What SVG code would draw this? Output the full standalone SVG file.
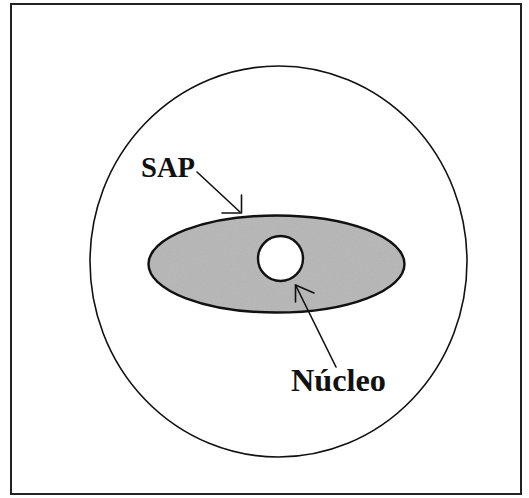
<svg xmlns="http://www.w3.org/2000/svg" width="529" height="498" viewBox="0 0 529 498">
<style>
.lbl{font-family:"Liberation Serif","DejaVu Serif",serif;font-weight:bold;fill:#111}
.ln{stroke:#111;fill:none;stroke-width:1.6;stroke-linecap:round}
</style>
<defs>
<filter id="grain" x="0" y="0" width="100%" height="100%">
<feTurbulence type="fractalNoise" baseFrequency="0.8" numOctaves="2" seed="3" result="n"/>
<feColorMatrix in="n" type="matrix" values="0 0 0 0 0.45  0 0 0 0 0.45  0 0 0 0 0.45  0 0 0 -2 1.3" result="g"/>
<feComposite in="g" in2="SourceGraphic" operator="in" result="gg"/>
<feMerge><feMergeNode in="SourceGraphic"/><feMergeNode in="gg"/></feMerge>
</filter>
</defs>
<rect width="529" height="498" fill="#ffffff"/>
<rect id="frame" x="11" y="4" width="510" height="490" fill="none" stroke="#222" stroke-width="2"/>
<g id="cell">
<ellipse cx="278.5" cy="261.5" rx="188.5" ry="195.5" fill="none" stroke="#111" stroke-width="1.6"/>
</g>
<g id="sap">
<ellipse cx="276.5" cy="264" rx="128" ry="48.5" fill="#b8b8b8" filter="url(#grain)"/>
<ellipse cx="276.5" cy="264" rx="128" ry="48.5" fill="none" stroke="#111" stroke-width="2.4"/>
</g>
<g id="nucleo">
<circle cx="280.5" cy="258.5" r="22.5" fill="#ffffff" stroke="#111" stroke-width="2.4"/>
</g>
<g id="connectors">
<path class="ln" d="M197 172 L240 212"/>
<path class="ln" d="M241.5 195 L241.5 213 M222 213 L241.5 213"/>
<path class="ln" d="M336 367 L295.5 285"/>
<path class="ln" d="M295.5 285 L295.5 302 M295.5 285 L314 293"/>
</g>
<g id="labels">
<text class="lbl" x="141" y="177" font-size="30" textLength="54" lengthAdjust="spacingAndGlyphs">SAP</text>
<text class="lbl" x="291" y="391" font-size="32" textLength="95" lengthAdjust="spacingAndGlyphs">Núcleo</text>
</g>
</svg>
